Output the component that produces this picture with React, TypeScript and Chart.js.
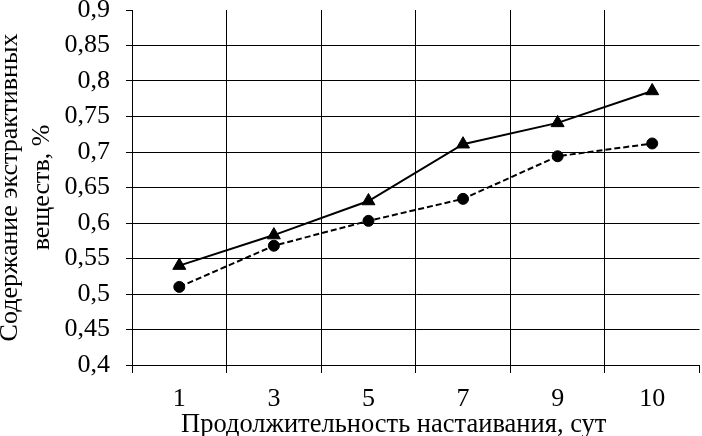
import React, { useEffect, useRef } from "react";
import { Chart, registerables } from "chart.js";

Chart.register(...registerables);

const categories = ["1", "3", "5", "7", "9", "10"];
const seriesTriangle = [0.54, 0.583, 0.631, 0.711, 0.741, 0.786];
const seriesCircle = [0.51, 0.568, 0.603, 0.634, 0.694, 0.712];
const yMin = 0.4;
const yMax = 0.9;
const yStep = 0.05;
const xTitle = "Продолжительность настаивания, сут";
const yTitle = ["Содержание экстрактивных", "веществ, %"];

const FONT = "'Liberation Serif', 'Times New Roman', serif";

const xTitlePlugin = {
  id: "xTitlePlugin",
  afterDraw(chart: any) {
    const { ctx, chartArea } = chart;
    ctx.save();
    ctx.font = `26.5px ${FONT}`;
    ctx.fillStyle = "#000";
    ctx.textAlign = "center";
    ctx.textBaseline = "alphabetic";
    const cx = (chartArea.left + chartArea.right) / 2 - 22;
    ctx.fillText(xTitle, cx, chart.height - 4.5);
    ctx.restore();
  },
};

export default function App() {
  const ref = useRef<HTMLCanvasElement | null>(null);

  useEffect(() => {
    if (!ref.current) return;
    const chart = new Chart(ref.current, {
      type: "line",
      data: {
        labels: categories,
        datasets: [
          {
            data: seriesTriangle,
            borderColor: "#000",
            backgroundColor: "#000",
            borderWidth: 2,
            pointStyle: "triangle",
            pointRadius: 7.5,
            pointBorderWidth: 1,
            pointBackgroundColor: "#000",
            pointBorderColor: "#000",
            tension: 0,
          },
          {
            data: seriesCircle,
            borderColor: "#000",
            backgroundColor: "#000",
            borderWidth: 2,
            borderDash: [6, 3],
            pointStyle: "circle",
            pointRadius: 5.5,
            pointBorderWidth: 1,
            pointBackgroundColor: "#000",
            pointBorderColor: "#000",
            tension: 0,
          },
        ],
      },
      plugins: [xTitlePlugin],
      options: {
        responsive: false,
        animation: false,
        layout: { autoPadding: false, padding: { left: 0, top: 10, right: 2.5, bottom: 0 } },
        plugins: {
          legend: { display: false },
          tooltip: { enabled: false },
        },
        scales: {
          x: {
            type: "category",
            offset: true,
            grid: {
              offset: true,
              color: (ctx: any) => (ctx.type === "tick" ? "#000" : "rgba(0,0,0,0)"),
              tickColor: "#000",
              tickLength: 8,
              lineWidth: 1,
            },
            border: { color: "#000", width: 1 },
            ticks: {
              color: "#000",
              font: { family: FONT, size: 26 },
              padding: 11,
              maxRotation: 0,
            },
            title: { display: false },
            afterFit: (scale: any) => {
              scale.height = 71;
              scale.paddingLeft = 0;
              scale.paddingRight = 0;
            },
          },
          y: {
            min: yMin,
            max: yMax,
            grid: {
              color: (ctx: any) => (ctx.index === 10 ? "rgba(0,0,0,0)" : "#000"),
              tickColor: "#000",
              tickLength: 6,
              lineWidth: 1,
            },
            border: { color: "#000", width: 1 },
            ticks: {
              stepSize: yStep,
              color: "#000",
              font: { family: FONT, size: 26 },
              padding: 16,
              callback: (v: any) => {
                const n = Math.round(Number(v) * 100) / 100;
                return String(n).replace(".", ",");
              },
            },
            title: {
              display: true,
              text: yTitle,
              color: "#000",
              font: { family: FONT, size: 26, lineHeight: 1.25 },
              padding: { top: -6.5, bottom: 0 },
            },
            afterFit: (scale: any) => {
              scale.width = 132;
              scale.paddingTop = 0;
              scale.paddingBottom = 0;
            },
          },
        },
      },
    });
    return () => chart.destroy();
  }, []);

  return (
    <div style={{ position: "fixed", left: 0, top: 0, width: 702, height: 436, background: "#fff" }}>
      <canvas ref={ref} width={702} height={436} style={{ width: 702, height: 436, display: "block" }} />
    </div>
  );
}
